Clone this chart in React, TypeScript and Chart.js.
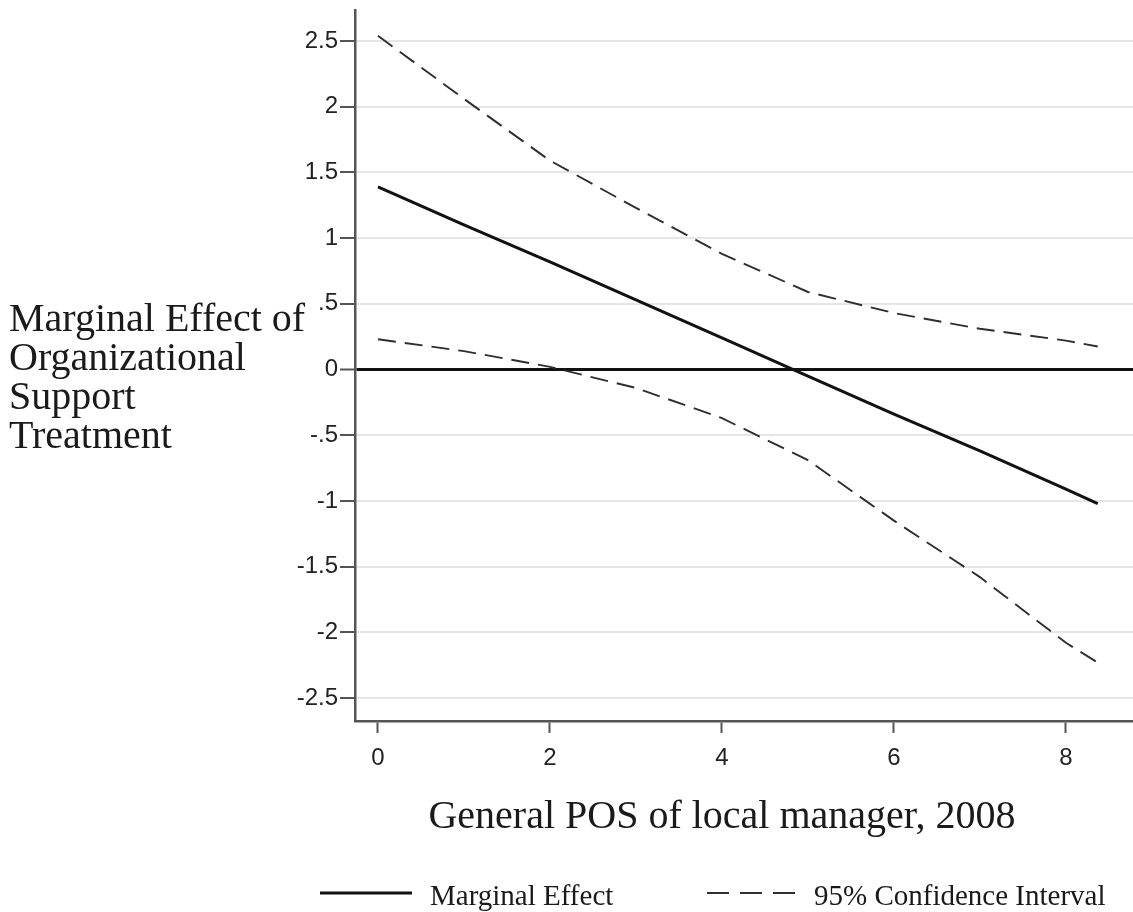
import React, { useEffect, useRef } from "react";
import { Chart, registerables } from "chart.js";

Chart.register(...registerables);

const xValues = [0, 1, 2, 3, 4, 5, 6, 7, 8, 8.37];
const marginalEffect = [1.39, 1.1, 0.82, 0.53, 0.24, -0.05, -0.34, -0.62, -0.91, -1.02];
const upperCI = [2.54, 2.06, 1.59, 1.23, 0.88, 0.59, 0.43, 0.31, 0.22, 0.175];
const lowerCI = [0.23, 0.14, 0.02, -0.14, -0.37, -0.69, -1.15, -1.58, -2.08, -2.23];
const xTicks = [0, 2, 4, 6, 8];
const yTicks = [-2.5, -2, -1.5, -1, -0.5, 0, 0.5, 1, 1.5, 2, 2.5];
const yTitleLines = ["Marginal Effect of", "Organizational", "Support", "Treatment"];
const xTitle = "General POS of local manager, 2008";
const legendLabels = ["Marginal Effect", "95% Confidence Interval"];

const W = 1133;
const H = 912;

function fmt(v: number): string {
  if (v === 0) return "0";
  const s = String(v);
  return s.replace(/^(-?)0\./, "$1.");
}

const textPlugin = {
  id: "textPlugin",
  afterDraw(chart: any) {
    const ctx = chart.ctx;
    ctx.save();
    ctx.fillStyle = "#1a1a1a";
    ctx.textBaseline = "alphabetic";
    // y title
    ctx.font = '40px "Liberation Serif", "Times New Roman", serif';
    ctx.textAlign = "left";
    const base = [331, 370, 409, 448];
    yTitleLines.forEach((t, i) => ctx.fillText(t, 9, base[i]));
    // x title
    ctx.textAlign = "center";
    ctx.fillText(xTitle, 722, 828);
    // legend
    ctx.font = '29px "Liberation Serif", "Times New Roman", serif';
    ctx.textAlign = "left";
    const ds0 = chart.data.datasets[0];
    const ds1 = chart.data.datasets[1];
    ctx.strokeStyle = ds0.borderColor;
    ctx.lineWidth = ds0.borderWidth;
    ctx.setLineDash([]);
    ctx.beginPath();
    ctx.moveTo(320, 893);
    ctx.lineTo(412, 893);
    ctx.stroke();
    ctx.fillText(legendLabels[0], 430, 905);
    ctx.strokeStyle = ds1.borderColor;
    ctx.lineWidth = ds1.borderWidth;
    ctx.setLineDash([22, 11]);
    ctx.beginPath();
    ctx.moveTo(707, 893);
    ctx.lineTo(796, 893);
    ctx.stroke();
    ctx.setLineDash([]);
    ctx.fillText(legendLabels[1], 814, 905);
    ctx.restore();
  },
};

export default function App() {
  const ref = useRef<HTMLCanvasElement | null>(null);
  useEffect(() => {
    if (!ref.current) return;
    const pts = (ys: number[]) => xValues.map((x, i) => ({ x, y: ys[i] }));
    const chart = new Chart(ref.current, {
      type: "line",
      data: {
        datasets: [
          {
            label: legendLabels[0],
            data: pts(marginalEffect),
            borderColor: "#111111",
            borderWidth: 3,
            pointRadius: 0,
            tension: 0,
          },
          {
            label: legendLabels[1],
            data: pts(upperCI),
            borderColor: "#2e2e2e",
            borderWidth: 1.9,
            borderDash: [18, 9],
            pointRadius: 0,
            tension: 0,
          },
          {
            label: legendLabels[1] + " (lower)",
            data: pts(lowerCI),
            borderColor: "#2e2e2e",
            borderWidth: 1.9,
            borderDash: [18, 9],
            pointRadius: 0,
            tension: 0,
          },
        ],
      },
      options: {
        responsive: false,
        animation: false,
        layout: { padding: { top: 10, right: 0, bottom: 0, left: 0 } },
        plugins: { legend: { display: false }, tooltip: { enabled: false } },
        scales: {
          x: {
            type: "linear",
            min: -0.267,
            max: 8.78,
            afterBuildTicks: (s: any) => {
              s.ticks = xTicks.map((v) => ({ value: v }));
            },
            afterFit: (s: any) => {
              s.height = H - 721;
              s.paddingLeft = 0;
              s.paddingRight = 0;
            },
            ticks: {
              color: "#222222",
              font: { family: '"Liberation Sans", Arial, sans-serif', size: 24 },
              padding: 11,
              maxRotation: 0,
              callback: (v: any) => fmt(Number(v)),
            },
            grid: {
              drawOnChartArea: false,
              drawTicks: true,
              tickLength: 12,
              tickColor: "#555555",
              tickWidth: 2,
            },
            border: { color: "#555555", width: 2.5 },
          },
          y: {
            type: "linear",
            min: -2.675,
            max: 2.736,
            afterBuildTicks: (s: any) => {
              s.ticks = yTicks.map((v) => ({ value: v }));
            },
            afterFit: (s: any) => {
              s.width = 355;
              s.paddingTop = 0;
              s.paddingBottom = 0;
            },
            ticks: {
              color: "#222222",
              font: { family: '"Liberation Sans", Arial, sans-serif', size: 24 },
              padding: 2,
              callback: (v: any) => fmt(Number(v)),
            },
            grid: {
              color: (c: any) => (c.tick && c.tick.value === 0 ? "#111111" : "#e6e6e6"),
              lineWidth: (c: any) => (c.tick && c.tick.value === 0 ? 3 : 2),
              drawTicks: true,
              tickLength: 15,
              tickColor: "#555555",
              tickWidth: 2,
            },
            border: { color: "#555555", width: 2.5 },
          },
        },
      },
      plugins: [textPlugin],
    });
    return () => chart.destroy();
  }, []);
  return (
    <div style={{ position: "absolute", left: 0, top: 0, width: W, height: H, background: "#ffffff" }}>
      <canvas ref={ref} width={W} height={H} style={{ display: "block" }} />
    </div>
  );
}
